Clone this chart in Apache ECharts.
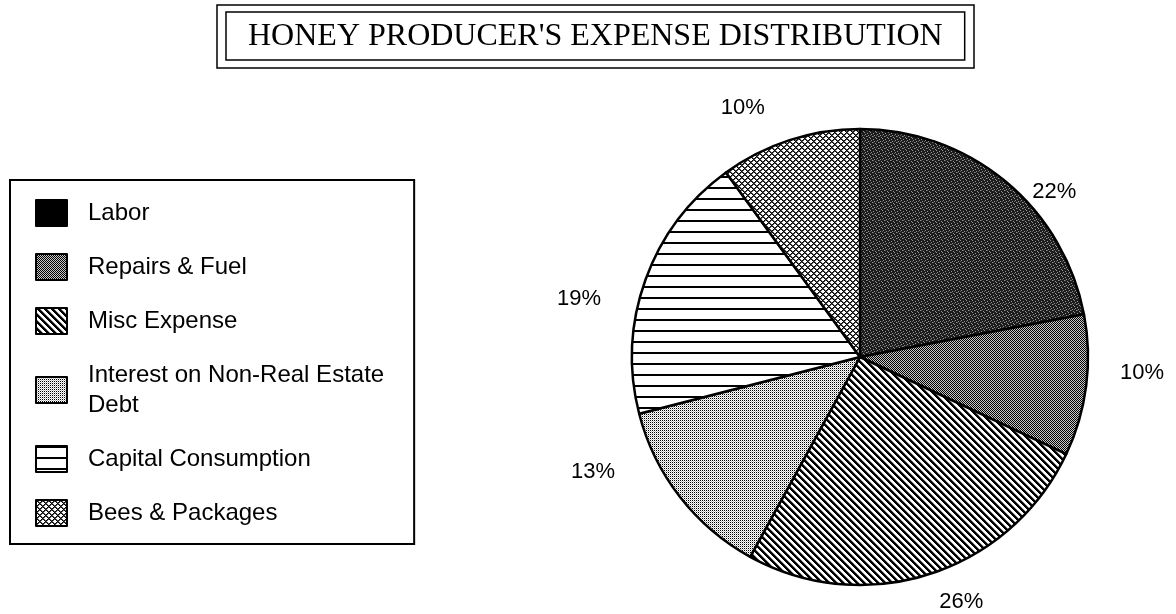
<!DOCTYPE html>
<html>
<head>
<meta charset="utf-8">
<script src="https://cdn.jsdelivr.net/npm/echarts@6/dist/echarts.min.js"></script>
<style>
  html, body { margin: 0; padding: 0; background: #fff; }
  #chart { width: 1176px; height: 614px; }
</style>
</head>
<body>
<div id="chart"></div>
<script>
// data
const categories = ['Labor', 'Repairs & Fuel', 'Misc Expense', 'Interest on Non-Real Estate Debt', 'Capital Consumption', 'Bees & Packages'];
const shares = [22, 10, 26, 13, 19, 10];
const titleText = "HONEY PRODUCER'S EXPENSE DISTRIBUTION";

// small offsets so the % labels sit where the printed ones do
const labelNudge = [[6, 30], [4, -16], [-4, 4], [-40, -40], [-16, 28], [-12, -8]];

// fill patterns (hatchings like the printed original)
const makePattern = (w, h, draw) => {
  const c = document.createElement('canvas');
  c.width = w;
  c.height = h;
  const ctx = c.getContext('2d');
  ctx.fillStyle = '#fff';
  ctx.fillRect(0, 0, w, h);
  draw(ctx, w, h);
  return { image: c, repeat: 'repeat' };
};

const px = (ctx, x, y, color) => {
  ctx.fillStyle = color;
  ctx.fillRect(x, y, 1, 1);
};

// dark speckled grey
const laborFill = makePattern(6, 6, (ctx) => {
  ctx.fillStyle = '#1c1c1c';
  ctx.fillRect(0, 0, 6, 6);
  [[0, 0], [3, 1], [1, 2], [4, 3], [2, 4], [5, 5]].forEach(p => px(ctx, p[0], p[1], '#959595'));
  [[3, 4], [0, 3]].forEach(p => px(ctx, p[0], p[1], '#5a5a5a'));
});

// fine checker, medium grey
const repairsFill = makePattern(2, 2, (ctx) => {
  px(ctx, 0, 0, '#000');
  px(ctx, 1, 1, '#000');
  px(ctx, 1, 0, '#c8c8c8');
  px(ctx, 0, 1, '#c8c8c8');
});

// diagonal stripes "\"
const miscFill = makePattern(7, 7, (ctx) => {
  for (let x = 0; x < 7; x++) {
    for (let y = 0; y < 7; y++) {
      const m = ((x - y) % 7 + 7) % 7;
      if (m < 3) px(ctx, x, y, '#000');
      else if (m === 3) px(ctx, x, y, '#888');
    }
  }
});

// light dots
const interestFill = makePattern(2, 2, (ctx) => {
  px(ctx, 0, 0, '#000');
  px(ctx, 1, 1, '#bcbcbc');
});

// horizontal lines
const capitalFill = makePattern(4, 11, (ctx) => {
  ctx.fillStyle = '#000';
  ctx.fillRect(0, 0, 4, 2);
});

// diagonal cross hatch
const beesFill = makePattern(6, 6, (ctx) => {
  for (let x = 0; x < 6; x++) {
    for (let y = 0; y < 6; y++) {
      const a = (x + y) % 6;
      const b = ((x - y) % 6 + 6) % 6;
      if (a === 0 || b === 0) px(ctx, x, y, '#000');
      else if (a === 1 || b === 1) px(ctx, x, y, '#555');
    }
  }
});

const fills = [laborFill, repairsFill, miscFill, interestFill, capitalFill, beesFill];

const wrapName = (name) => name === 'Interest on Non-Real Estate Debt' ? 'Interest on Non-Real Estate\nDebt' : name;

const chart = echarts.init(document.getElementById('chart'));

const option = {
  backgroundColor: '#fff',
  animation: false,
  title: {
    text: '{t|' + titleText + '}',
    left: 217,
    top: 12,
    padding: [7, 9],
    borderColor: '#000',
    borderWidth: 1.5,
    textStyle: {
      rich: {
        t: {
          fontFamily: 'Liberation Serif',
          fontWeight: 'normal',
          fontSize: 32,
          lineHeight: 34,
          color: '#000',
          borderColor: '#000',
          borderWidth: 1.5,
          padding: [9, 22, 7, 22]
        }
      }
    }
  },
  legend: {
    orient: 'vertical',
    left: 10,
    top: 180,
    padding: [18, 30, 16, 25],
    borderColor: '#000',
    borderWidth: 2,
    itemWidth: 31,
    itemHeight: 26,
    itemGap: 24,
    icon: 'rect',
    selectedMode: false,
    formatter: wrapName,
    textStyle: {
      fontFamily: 'Liberation Sans',
      fontSize: 24,
      lineHeight: 30,
      color: '#000',
      padding: [0, 0, 0, 16]
    },
    data: categories.map((name, i) => (i === 0 ? { name, itemStyle: { color: '#000' } } : { name }))
  },
  series: [
    {
      type: 'pie',
      center: [860, 357],
      radius: 228,
      startAngle: 90,
      clockwise: true,
      data: categories.map((name, i) => ({
        name,
        value: shares[i],
        itemStyle: { color: fills[i] }
      })),
      itemStyle: {
        borderColor: '#000',
        borderWidth: 2.5
      },
      label: {
        position: 'outside',
        formatter: '{c}%',
        fontFamily: 'Liberation Sans',
        fontSize: 22,
        color: '#000'
      },
      labelLine: {
        show: false,
        length: 25,
        length2: 0
      },
      labelLayout: (params) => ({
        dx: labelNudge[params.dataIndex][0],
        dy: labelNudge[params.dataIndex][1]
      }),
      emphasis: { disabled: true }
    }
  ]
};

chart.setOption(option);
</script>
</body>
</html>
